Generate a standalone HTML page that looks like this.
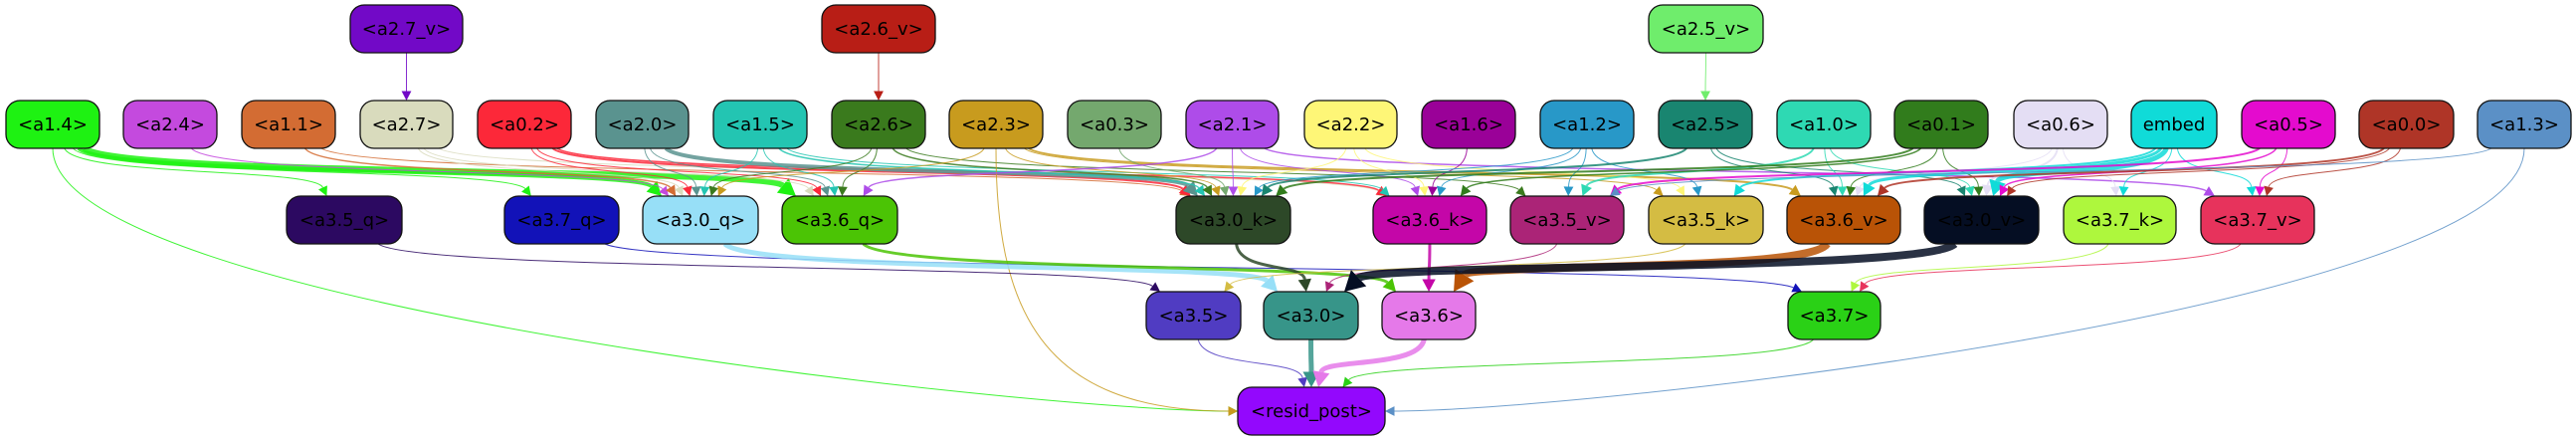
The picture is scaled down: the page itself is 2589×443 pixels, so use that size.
<!DOCTYPE html>
<html><head><meta charset="utf-8"><style>
html,body{margin:0;padding:0;background:#fff;}
svg{display:block;}
text{font-family:"DejaVu Sans","Liberation Sans",sans-serif;font-size:18px;}
</style></head><body>
<svg id="s" width="2589" height="443" viewBox="0 0 2589 443" xmlns="http://www.w3.org/2000/svg">
<g id="edges"></g><g id="nodes"></g>
</svg>
<script>
var N={
"a2.7_v":[352,5,465,"#7209c7"],"a2.6_v":[826,5,940,"#b81e16"],"a2.5_v":[1657,5,1772,"#6fed6c"],
"a1.4":[6,101,100,"#1ef212"],"a2.4":[124,101,218,"#c44ade"],"a1.1":[243,101,337,"#d36c33"],"a2.7":[362,101,455,"#d9dbbd"],
"a0.2":[480,101,574,"#fc2839"],"a2.0":[599,101,692,"#5a938f"],"a1.5":[717,101,811,"#23c5b2"],"a2.6":[836,101,930,"#3a7a1d"],
"a2.3":[954,101,1048,"#c89b1e"],"a0.3":[1073,101,1167,"#74a86e"],"a2.1":[1192,101,1285,"#ae4ce9"],"a2.2":[1311,101,1404,"#fef677"],
"a1.6":[1429,101,1523,"#9a0198"],"a1.2":[1548,101,1642,"#2898c8"],"a2.5":[1667,101,1761,"#198570"],"a1.0":[1786,101,1880,"#2ed9b3"],
"a0.1":[1904,101,1998,"#317c1c"],"a0.6":[2024,101,2118,"#e4def4"],"embed":[2142,101,2228,"#10dbd8"],"a0.5":[2253,101,2347,"#e40bce"],
"a0.0":[2371,101,2466,"#af3527"],"a1.3":[2490,101,2584,"#5b90c6"],
"a3.5_q":[288,197,404,"#2c0961"],"a3.7_q":[507,197,622,"#1212b8"],"a3.0_q":[646,197,762,"#97dff7"],"a3.6_q":[786,197,902,"#4bc405"],
"a3.0_k":[1182,197,1297,"#2d4828"],"a3.6_k":[1380,197,1494,"#c406a8"],"a3.5_v":[1518,197,1632,"#ab2477"],"a3.5_k":[1657,197,1772,"#d4bc43"],
"a3.6_v":[1796,197,1910,"#b95306"],"a3.0_v":[1934,197,2049,"#050e23"],"a3.7_k":[2074,197,2187,"#aef73d"],"a3.7_v":[2212,197,2326,"#e7335c"],
"a3.5":[1152,293,1247,"#503cc2"],"a3.0":[1270,293,1365,"#379589"],"a3.6":[1389,293,1483,"#e579e9"],"a3.7":[1797,293,1890,"#2ad116"],
"resid_post":[1244,389,1392,"#9308fd"]};
var E=[
["a2.7_v","a2.7",1],["a2.6_v","a2.6",1],["a2.5_v","a2.5",1],
["a1.4","a3.6_q",6],["a1.4","a3.0_q",4],["a1.4","a3.5_q",1],["a1.4","a3.7_q",1],["a1.4","resid_post",1],
["a2.4","a3.0_q",1],["a1.1","a3.0_q",1.5],["a1.1","a3.0_k",1],["a2.7","a3.0_q",1],["a2.7","a3.6_k",1],["a2.7","a3.6_q",1],
["a0.2","a3.0_q",1],["a0.2","a3.0_k",2],["a0.2","a3.6_k",1.5],["a0.2","a3.6_q",1],
["a2.0","a3.0_q",1],["a2.0","a3.0_k",4],["a2.0","a3.6_q",1],
["a1.5","a3.0_q",1],["a1.5","a3.6_q",1],["a1.5","a3.0_k",1.5],["a1.5","a3.6_k",1],
["a2.6","a3.6_q",1],["a2.6","a3.0_q",1],["a2.6","a3.0_k",1.5],["a2.6","a3.5_v",1],
["a2.3","a3.0_q",1],["a2.3","a3.0_k",1],["a2.3","a3.6_v",2],["a2.3","resid_post",1],["a2.3","a3.5_k",1],
["a0.3","a3.0_k",1],["a2.1","a3.0_k",1],["a2.1","a3.6_q",1.5],["a2.1","a3.6_k",1],["a2.1","a3.7_v",1.5],
["a2.2","a3.6_k",1],["a2.2","a3.0_k",1],["a2.2","a3.5_k",1],["a1.6","a3.6_k",1],
["a1.2","a3.6_k",1],["a1.2","a3.5_v",1],["a1.2","a3.5_k",1],["a1.2","a3.0_k",1],
["a2.5","a3.6_v",1],["a2.5","a3.0_v",1],["a2.5","a3.0_k",2],
["a1.0","a3.6_v",1],["a1.0","a3.0_v",1],["a1.0","a3.5_v",2],
["a0.1","a3.0_v",1],["a0.1","a3.6_v",1],["a0.1","a3.0_k",2],["a0.1","a3.6_k",1.5],
["a0.6","a3.0_v",2],["a0.6","a3.7_k",1],["a0.6","a3.6_v",1],
["embed","a3.0_v",5],["embed","a3.6_v",3],["embed","a3.7_k",1],["embed","a3.7_v",1],["embed","a3.5_k",2],
["a0.5","a3.7_v",1],["a0.5","a3.5_v",2],["a0.5","a3.0_v",1.5],
["a0.0","a3.7_v",1],["a0.0","a3.6_v",2],["a0.0","a3.0_v",1],
["a1.3","resid_post",1],["a1.3","a3.5_v",1],
["a3.5_q","a3.5",1],["a3.7_q","a3.7",1],["a3.0_q","a3.0",5],["a3.6_q","a3.6",3],["a3.0_k","a3.0",3],
["a3.6_k","a3.6",3],["a3.5_v","a3.0",1],["a3.5_k","a3.5",1],["a3.6_v","a3.6",8],["a3.0_v","a3.0",8],
["a3.7_k","a3.7",1],["a3.7_v","a3.7",1],
["a3.5","resid_post",1],["a3.0","resid_post",5],["a3.6","resid_post",5],["a3.7","resid_post",1]];
var ns="http://www.w3.org/2000/svg",eg=document.getElementById("edges"),ng=document.getElementById("nodes");
function el(t,a,p){var e=document.createElementNS(ns,t);for(var k in a)e.setAttribute(k,a[k]);p.appendChild(e);return e;}
E.forEach(function(d){
 var s=N[d[0]],t=N[d[1]],w=d[2],c=s[3];
 var sx=(s[0]+s[2])/2,sy=s[1]+48,tcx=(t[0]+t[2])/2,tx=tcx,ty=t[1];
 var side=false;
 if(t[1]-s[1]>100 && Math.abs(tx-sx)>300){ side=true; ty=t[1]+24; tx = sx<tx? t[0]: t[2]; }
 else {
   var off=(sx-tcx)*0.06, lim=(t[2]-t[0])/2-14;
   off=Math.max(-lim,Math.min(lim,off)); tx=tcx+off;
   var so=(tcx-sx)*0.04, sl=(s[2]-s[0])/2-14; so=Math.max(-sl,Math.min(sl,so)); sx+=so;
 }
 var al=8+w*1.5;
 var dx,dy,c1x,c1y,c2x,c2y;
 if(side){c1x=sx;c1y=sy+(ty-sy)*0.6;c2x=tx+(sx<tx?-200:200);c2y=ty;dx=sx<tx?1:-1;dy=0;}
 else{
   var ddx=tx-sx;
   c1x=sx+ddx*0.05;c1y=sy+(ty-sy)*0.6;c2x=tx-ddx*0.05;c2y=ty-(ty-sy)*0.6;
   var vx=tx-c2x,vy=ty-c2y,L=Math.sqrt(vx*vx+vy*vy);dx=vx/L;dy=vy/L;}
 var ex=tx-dx*al,ey=ty-dy*al;
 el("path",{d:"M"+sx+","+sy+" C"+c1x+","+c1y+" "+c2x+","+c2y+" "+ex+","+ey,fill:"none",stroke:c,"stroke-width":w,"stroke-opacity":0.85},eg);
 var hw=4+w*0.9,px=-dy,py=dx;
 el("polygon",{points:tx+","+ty+" "+(ex+px*hw)+","+(ey+py*hw)+" "+(ex-px*hw)+","+(ey-py*hw),fill:c},eg);
});
for(var k in N){var n=N[k];
 el("rect",{x:n[0],y:n[1],width:n[2]-n[0],height:48,rx:14,ry:14,fill:n[3],stroke:"#111","stroke-width":1.3},ng);
 var t=el("text",{x:(n[0]+n[2])/2,y:n[1]+30,"text-anchor":"middle",fill:"#000"},ng);
 t.textContent=k=="embed"?"embed":"<"+k+">";
}
</script>
</body></html>
